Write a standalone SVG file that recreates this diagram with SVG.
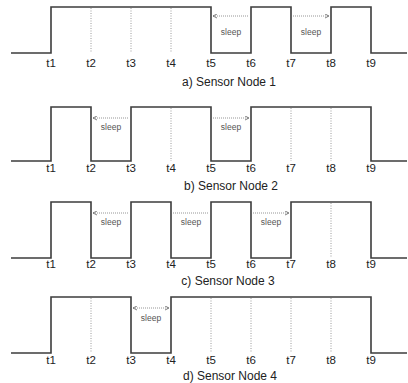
<svg xmlns="http://www.w3.org/2000/svg" width="408" height="383" viewBox="0 0 408 383">
<style>
.w{fill:none;stroke:#3c3c3c;stroke-width:1.6}
.d{fill:none;stroke:#9a9a9a;stroke-width:1;stroke-dasharray:1 1.5}
.a{fill:none;stroke:#8a8a8a;stroke-width:0.9;stroke-dasharray:1 1;marker-start:url(#ah);marker-end:url(#ah)}
.t{font-family:"Liberation Sans",Arial,sans-serif;font-size:11.5px;fill:#222;text-anchor:middle}
.c{font-family:"Liberation Sans",Arial,sans-serif;font-size:12px;fill:#222;text-anchor:middle}
.s{font-family:"Liberation Sans",Arial,sans-serif;font-size:8.5px;fill:#555;text-anchor:middle}
</style>
<defs>
<marker id="ah" viewBox="0 0 6 6" refX="5" refY="3" markerWidth="5" markerHeight="5" orient="auto-start-reverse" markerUnits="userSpaceOnUse">
<path d="M0,0.5 L5,3 L0,5.5" fill="none" stroke="#666" stroke-width="1"/>
</marker>
</defs>

<g id="node1">
<path class="d" d="M91,8V53M131,8V53M171,8V53"/>
<path class="w" d="M11,53H51V7H211V53H251V7H291V53H331V7H371V53H407"/>
<path class="a" d="M213,16H249M293,16H329"/>
<text class="s" x="231" y="35">sleep</text>
<text class="s" x="311" y="35">sleep</text>
<g class="t"><text x="51" y="67">t1</text><text x="91" y="67">t2</text><text x="131" y="67">t3</text><text x="171" y="67">t4</text><text x="211" y="67">t5</text><text x="251" y="67">t6</text><text x="291" y="67">t7</text><text x="331" y="67">t8</text><text x="371" y="67">t9</text></g>
<text class="c" x="229" y="86">a) Sensor Node 1</text>
</g>

<g id="node2">
<path class="d" d="M171,108V161M291,108V161M331,108V161"/>
<path class="w" d="M11,161H51V107H91V161H131V107H211V161H251V107H371V161H407"/>
<path class="a" d="M93,118H129M213,118H249"/>
<text class="s" x="111" y="130">sleep</text>
<text class="s" x="231" y="130">sleep</text>
<g class="t"><text x="51" y="172">t1</text><text x="91" y="172">t2</text><text x="131" y="172">t3</text><text x="171" y="172">t4</text><text x="211" y="172">t5</text><text x="251" y="172">t6</text><text x="291" y="172">t7</text><text x="331" y="172">t8</text><text x="371" y="172">t9</text></g>
<text class="c" x="231" y="190">b) Sensor Node 2</text>
</g>

<g id="node3">
<path class="d" d="M331,203V258"/>
<path class="w" d="M11,258H51V202H91V258H131V202H171V258H211V202H251V258H291V202H371V258H407"/>
<path class="a" d="M93,213H129M173,213H209M253,213H289"/>
<text class="s" x="111" y="225">sleep</text>
<text class="s" x="191" y="225">sleep</text>
<text class="s" x="271" y="225">sleep</text>
<g class="t"><text x="51" y="268">t1</text><text x="91" y="268">t2</text><text x="131" y="268">t3</text><text x="171" y="268">t4</text><text x="211" y="268">t5</text><text x="251" y="268">t6</text><text x="291" y="268">t7</text><text x="331" y="268">t8</text><text x="371" y="268">t9</text></g>
<text class="c" x="228" y="285">c) Sensor Node 3</text>
</g>

<g id="node4">
<path class="d" d="M91,298V353M211,298V353M251,298V353M291,298V353M331,298V353"/>
<path class="w" d="M11,353H51V297H131V353H171V297H371V353H407"/>
<path class="a" d="M133,308H169"/>
<text class="s" x="151" y="321">sleep</text>
<g class="t"><text x="51" y="364">t1</text><text x="91" y="364">t2</text><text x="131" y="364">t3</text><text x="171" y="364">t4</text><text x="211" y="364">t5</text><text x="251" y="364">t6</text><text x="291" y="364">t7</text><text x="331" y="364">t8</text><text x="371" y="364">t9</text></g>
<text class="c" x="230" y="380">d) Sensor Node 4</text>
</g>
</svg>
